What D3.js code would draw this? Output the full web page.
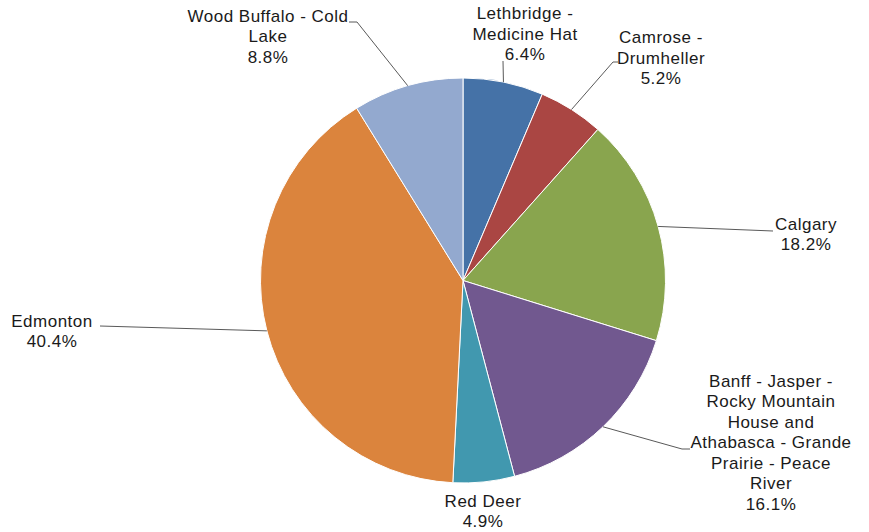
<!DOCTYPE html>
<html>
<head>
<meta charset="utf-8">
<script src="https://cdn.jsdelivr.net/npm/d3@7"></script>
<style>
  html, body { margin: 0; padding: 0; background: #fff; }
  svg { display: block; }
  text { font-family: "Liberation Sans", Arial, sans-serif; font-size: 17px; letter-spacing: 0.5px; fill: #1a1a1a; }
</style>
</head>
<body>
<svg id="chart" width="869" height="532"></svg>
<script>
// ---- data ----
const categories = [
  "Lethbridge - Medicine Hat",
  "Camrose - Drumheller",
  "Calgary",
  "Banff - Jasper - Rocky Mountain House and Athabasca - Grande Prairie - Peace River",
  "Red Deer",
  "Edmonton",
  "Wood Buffalo - Cold Lake"
];
const values = [6.4, 5.2, 18.2, 16.1, 4.9, 40.4, 8.8];
const labelLines = [
  ["Lethbridge  -", "Medicine Hat"],
  ["Camrose -", "Drumheller"],
  ["Calgary"],
  ["Banff - Jasper -", "Rocky Mountain", "House and", "Athabasca - Grande", "Prairie - Peace", "River"],
  ["Red Deer"],
  ["Edmonton"],
  ["Wood Buffalo - Cold", "Lake"]
];
const colors = ["#4572A7", "#AA4643", "#89A54E", "#71588F", "#4198AF", "#DB843D", "#93A9CF"];

// ---- layout (label placement, Excel best-fit style) ----
const W = 869, H = 532;
const cx = 463, cy = 280.5, R = 202.5;
const lineH = 20.5;
const labelLayout = [
  { x: 525, y: 19,    leader: [[503, 61]] },
  { x: 661, y: 43,    leader: [[613, 62], [618, 62]] },
  { x: 806, y: 229.5, leader: [[773, 231]] },
  { x: 771, y: 386.5, leader: [[682, 449], [690, 449]] },
  { x: 483, y: 506.5, leader: null },
  { x: 52,  y: 326.5, leader: [[100, 326]] },
  { x: 268, y: 21.5,  leader: [[357, 22], [349, 22]] }
];

const svg = d3.select("#chart");
const g = svg.append("g").attr("transform", `translate(${cx},${cy})`);

const pie = d3.pie().sort(null).value(d => d)
  .startAngle(0).endAngle(2 * Math.PI);
const arcs = pie(values);
const arc = d3.arc().innerRadius(0).outerRadius(R);

g.selectAll("path.slice")
  .data(arcs)
  .join("path")
  .attr("class", "slice")
  .attr("d", arc)
  .attr("fill", (d, i) => colors[i])
  .attr("stroke", "#fff")
  .attr("stroke-width", 1);

// leader lines
const lineGen = d3.line();
arcs.forEach((d, i) => {
  const L = labelLayout[i];
  if (!L.leader) return;
  const mid = (d.startAngle + d.endAngle) / 2;
  const start = [cx + R * Math.sin(mid), cy - R * Math.cos(mid)];
  const pts = [start].concat(L.leader);
  svg.append("path")
    .attr("d", lineGen(pts))
    .attr("fill", "none")
    .attr("stroke", "#595959")
    .attr("stroke-width", 1);
});

// labels
const fmt = d3.format(".1f");
arcs.forEach((d, i) => {
  const L = labelLayout[i];
  const lines = labelLines[i].concat([fmt(values[i]) + "%"]);
  const t = svg.append("text")
    .attr("text-anchor", "middle")
    .attr("x", L.x).attr("y", L.y);
  lines.forEach((s, k) => {
    t.append("tspan")
      .attr("x", L.x)
      .attr("y", L.y + k * lineH)
      .text(s);
  });
});
</script>
</body>
</html>
